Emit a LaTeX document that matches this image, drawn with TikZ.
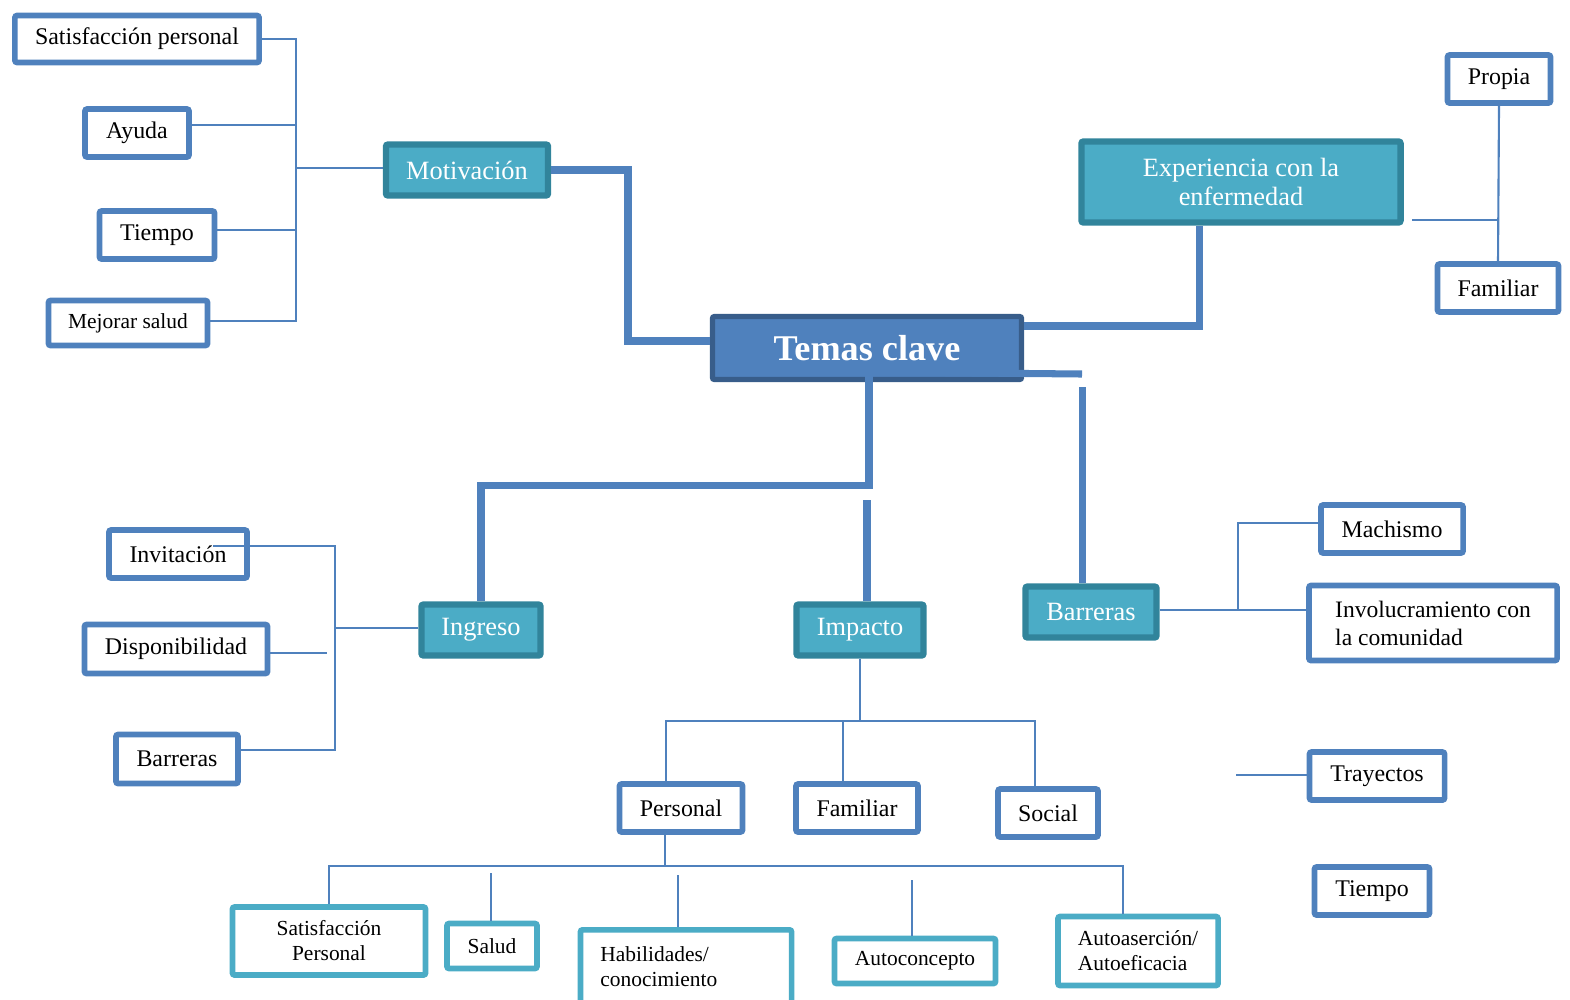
\documentclass[tikz,border=0pt]{standalone}
\usepackage{fontspec}
\setmainfont{Liberation Serif}
\definecolor{boxblue}{HTML}{4F81BD}
\definecolor{tealfill}{HTML}{4BACC6}
\definecolor{tealedge}{HTML}{31849B}
\definecolor{coreedge}{HTML}{385D8A}
\tikzset{
  leaf/.style={draw=boxblue, line width=1.6pt, fill=white, inner sep=0pt, rounded corners=0.6pt, font=\fontsize{6.8}{8}\selectfont},
  topic/.style={draw=tealedge, fill=tealfill, line width=1.8pt, inner sep=0pt, text=white, rounded corners=0.6pt, font=\fontsize{7.5}{8.5}\selectfont},
  core/.style={draw=coreedge, fill=boxblue, line width=1.5pt, inner sep=0pt, text=white, rounded corners=0.6pt, font=\bfseries\fontsize{10.3}{12}\selectfont},
  sub/.style={draw=tealfill, line width=1.6pt, fill=white, inner sep=0pt, rounded corners=0.6pt, font=\fontsize{6.1}{7.1}\selectfont},
  trunk/.style={draw=boxblue, line width=2pt},
  twig/.style={draw=boxblue, line width=0.6pt},
}
\begin{document}
\begin{tikzpicture}[x=0.01cm, y=-0.01cm]
            \useasboundingbox (0,0) rectangle (1570,999);
            % centre and main topics
            \node[core, minimum width=3.09cm, minimum height=0.63cm] (temas) at (867,348) {Temas clave};
            \node[topic, minimum width=1.62cm, minimum height=0.51cm] (motiv) at (467,170) {Motivación};
            \node[topic, minimum width=3.19cm, minimum height=0.81cm, align=center] (exper) at (1241,182) {Experiencia con la\\enfermedad};
            \node[topic, minimum width=1.19cm, minimum height=0.51cm] (ingreso) at (481,630) {Ingreso};
            \node[topic, minimum width=1.27cm, minimum height=0.51cm] (impacto) at (860,630) {Impacto};
            \node[topic, minimum width=1.31cm, minimum height=0.51cm] (barr) at (1091,612) {Barreras};
            % motivacion
            \node[leaf, minimum width=2.44cm, minimum height=0.47cm] (sat) at (137,39) {Satisfacción personal};
            \node[leaf, minimum width=1.04cm, minimum height=0.48cm] (ayuda) at (137,133) {Ayuda};
            \node[leaf, minimum width=1.15cm, minimum height=0.48cm] (tiempoA) at (157,235) {Tiempo};
            \node[leaf, minimum width=1.59cm, minimum height=0.45cm, font=\fontsize{6.1}{7}\selectfont] (mejorar) at (128,323) {Mejorar salud};
            % experiencia
            \node[leaf, minimum width=1.03cm, minimum height=0.48cm] (propia) at (1499,79) {Propia};
            \node[leaf, minimum width=1.21cm, minimum height=0.48cm] (famA) at (1498,288) {Familiar};
            % ingreso
            \node[leaf, minimum width=1.38cm, minimum height=0.48cm] (invit) at (178,554) {Invitación};
            \node[leaf, minimum width=1.83cm, minimum height=0.49cm] (dispon) at (176,649) {Disponibilidad};
            \node[leaf, minimum width=1.22cm, minimum height=0.49cm] (barrI) at (177,759) {Barreras};
            % barreras
            \node[leaf, minimum width=1.42cm, minimum height=0.48cm] (machismo) at (1392,529) {Machismo};
            \node[leaf, minimum width=2.48cm, minimum height=0.75cm, align=left, font=\fontsize{6.7}{8}\selectfont] (involuc) at (1433,623) {Involucramiento con\\la comunidad};
            \node[leaf, minimum width=1.35cm, minimum height=0.48cm] (trayectos) at (1377,776) {Trayectos};
            \node[leaf, minimum width=1.15cm, minimum height=0.48cm] (tiempoB) at (1372,891) {Tiempo};
            % impacto
            \node[leaf, minimum width=1.23cm, minimum height=0.48cm] (personal) at (681,808) {Personal};
            \node[leaf, minimum width=1.22cm, minimum height=0.48cm] (famB) at (857,808) {Familiar};
            \node[leaf, minimum width=1.00cm, minimum height=0.48cm] (social) at (1048,813) {Social};
            % personal
            \node[sub, minimum width=1.93cm, minimum height=0.68cm, align=center] (satP) at (329,941) {Satisfacción\\Personal};
            \node[sub, minimum width=0.90cm, minimum height=0.45cm] (salud) at (492,946) {Salud};
            \node[sub, anchor=north, minimum height=0.74cm, text width=1.71cm, inner xsep=0.2cm, align=left] (habil) at (686,927) {Habilidades/\\conocimiento};
            \node[sub, minimum width=1.61cm, minimum height=0.45cm] (autoc) at (915,961) {Autoconcepto};
            \node[sub, minimum width=1.60cm, minimum height=0.69cm, align=left] (autoa) at (1138,951) {Autoaserción/\\Autoeficacia};

            % thick connectors
            \coordinate (tk) at (869,372);
            \coordinate (bk) at (1082,374);
            \coordinate (bt) at (1082,387);
            \coordinate (ik) at (867,500);
            \draw[trunk] (motiv.east) -| (628,341) -- (temas.west |- 0,341);
            \draw[trunk] (temas.east |- 0,326) -| (exper.south -| 1199,0);
            \draw[trunk] (tk) |- (ingreso.north |- 0,485) -- (ingreso.north);
            \draw[trunk] (tk) -- (bk);
            \draw[trunk] (bt) -- (barr.north -| bt);
            \draw[trunk] (ik) -- (impacto.north -| ik);

            % thin connectors
            \coordinate (mj) at (296,168);
            \draw[twig] (motiv.west |- mj) -- (mj) |- (sat.east);
            \draw[twig] (mj) |- (ayuda.east |- 0,125);
            \draw[twig] (mj) |- (tiempoA.east |- 0,230);
            \draw[twig] (mj) |- (mejorar.east |- 0,321);

            \coordinate (ej) at (1498,220);
            \coordinate (ex) at (1412,220);
            \draw[twig] (propia.south) -- (famA.north);
            \draw[twig] (ex) -- (ej);

            \coordinate (ij) at (335,628);
            \coordinate (invtip) at (213,546);
            \coordinate (dj) at (327,653);
            \draw[twig] (ingreso.west |- ij) -- (ij) |- (invtip);
            \draw[twig] (dispon.east |- dj) -- (dj);
            \draw[twig] (ij) |- (barrI.east |- 0,750);

            \coordinate (bj) at (1238,610);
            \draw[twig] (barr.east |- bj) -- (involuc.west |- bj);
            \draw[twig] (bj) |- (machismo.west |- 0,523);
            \coordinate (tj) at (1236,775);
            \draw[twig] (tj) -- (trayectos.west |- tj);

            \coordinate (pj) at (860,721);
            \draw[twig] (impacto.south) -- (pj);
            \draw[twig] (pj) -| (personal.north -| 666,0);
            \draw[twig] (pj) -| (social.north -| 1035,0);
            \draw[twig] (famB.north -| 843,0) -- (pj -| 843,0);

            \coordinate (qj) at (665,866);
            \draw[twig] (personal.south -| qj) -- (qj);
            \draw[twig] (qj) -| (satP.north);
            \draw[twig] (qj) -| (autoa.north -| 1123,0);
            \coordinate (sl) at (491,873);
            \coordinate (hb) at (678,875);
            \coordinate (ac) at (912,880);
            \draw[twig] (sl) -- (salud.north -| sl);
            \draw[twig] (hb) -- (habil.north -| hb);
            \draw[twig] (ac) -- (autoc.north -| ac);
        \end{tikzpicture}
\end{document}
